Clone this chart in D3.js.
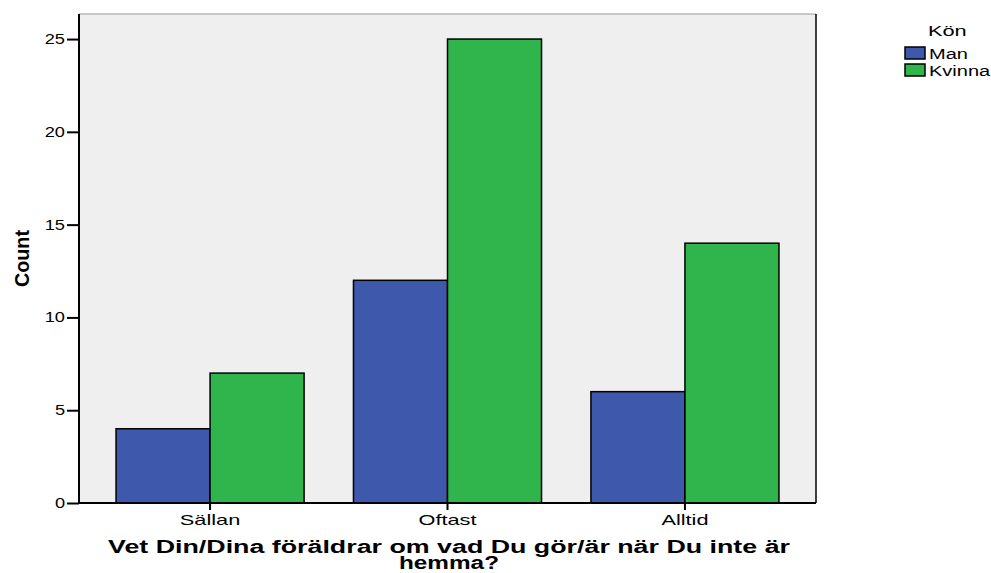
<!DOCTYPE html>
<html>
<head>
<meta charset="utf-8">
<script src="https://cdn.jsdelivr.net/npm/d3@7"></script>
<style>
  body { margin: 0; background: #fff; }
  text { font-family: "Liberation Sans", Arial, sans-serif; }
</style>
</head>
<body>
<div id="chart"></div>
<script>
// data ---------------------------------------------------------------
const categories = ['Sällan', 'Oftast', 'Alltid'];
const groups = ['Man', 'Kvinna'];
const manValues = [4, 12, 6];
const kvinnaValues = [7, 25, 14];
const yTicks = [0, 5, 10, 15, 20, 25];

const width = 991, height = 573;
const m = { left: 79, top: 14, right: 816, bottom: 503 };

// 横に引き伸ばした文字（元画像の文字が横長なので）
const stretch = (sel, k) => sel.each(function () {
  this.setAttribute('textLength', this.getComputedTextLength() * k);
  this.setAttribute('lengthAdjust', 'spacingAndGlyphs');
});

const svg = d3.select('#chart').append('svg')
  .attr('width', width)
  .attr('height', height);

const x = d3.scaleBand()
  .domain(categories)
  .range([m.left, m.right])
  .paddingInner(0.208)
  .paddingOuter(0.156);
const xInner = d3.scaleBand()
  .domain(groups)
  .range([0, x.bandwidth()]);
const y = d3.scaleLinear()
  .domain([0, 26.35])
  .range([m.bottom, m.top]);
const color = d3.scaleOrdinal()
  .domain(groups)
  .range(['#3e58ac', '#2fb54b']);

// 背景
svg.append('rect')
  .attr('x', m.left).attr('y', m.top)
  .attr('width', m.right - m.left).attr('height', m.bottom - m.top)
  .attr('fill', '#efefef');

// bars
const rows = categories.map((c, i) => ({ cat: c, Man: manValues[i], Kvinna: kvinnaValues[i] }));
svg.append('g')
  .selectAll('g')
  .data(rows)
  .enter()
  .append('g')
  .attr('transform', d => 'translate(' + x(d.cat) + ',0)')
  .selectAll('rect')
  .data(d => groups.map(g => ({ key: g, value: d[g] })))
  .enter()
  .append('rect')
  .attr('x', d => xInner(d.key))
  .attr('y', d => y(d.value))
  .attr('width', xInner.bandwidth())
  .attr('height', d => y(0) - y(d.value))
  .attr('fill', d => color(d.key))
  .attr('stroke', '#000')
  .attr('stroke-width', 1.5);

// frame
svg.append('line')
  .attr('x1', m.left).attr('x2', m.right)
  .attr('y1', m.top).attr('y2', m.top)
  .attr('stroke', '#999').attr('stroke-width', 1);
svg.append('line')
  .attr('x1', m.right).attr('x2', m.right)
  .attr('y1', m.top).attr('y2', m.bottom)
  .attr('stroke', '#000').attr('stroke-width', 1.5);

// axes
const yAxis = svg.append('g')
  .attr('transform', 'translate(' + m.left + ',0)')
  .call(d3.axisLeft(y).tickValues(yTicks).tickSize(12).tickPadding(2));
const xAxis = svg.append('g')
  .attr('transform', 'translate(0,' + m.bottom + ')')
  .call(d3.axisBottom(x).tickSize(7).tickPadding(4));
[yAxis, xAxis].forEach(a => {
  a.select('.domain').attr('stroke', '#000').attr('stroke-width', 2);
  a.selectAll('.tick line').attr('stroke', '#000').attr('stroke-width', 2);
  a.selectAll('.tick text')
    .attr('fill', '#000')
    .attr('font-family', '"Liberation Sans", Arial, sans-serif');
});
yAxis.selectAll('.tick text').attr('font-size', '14px').call(stretch, 1.3);
xAxis.selectAll('.tick text').attr('font-size', '15px').call(stretch, 1.45);
yAxis.select('.domain').attr('d', 'M0,' + m.bottom + 'V' + m.top);
xAxis.select('.domain').attr('d', 'M' + m.left + ',0H' + m.right);

// axis titles
svg.append('text')
  .attr('transform', 'translate(29,' + ((m.top + m.bottom) / 2) + ') rotate(-90)')
  .attr('text-anchor', 'middle')
  .attr('font-size', '20px')
  .attr('font-weight', 'bold')
  .attr('textLength', 57)
  .attr('lengthAdjust', 'spacingAndGlyphs')
  .text('Count');

const xTitle = svg.append('text')
  .attr('text-anchor', 'middle')
  .attr('font-size', '18px')
  .attr('font-weight', 'bold');
xTitle.append('tspan').attr('x', 449).attr('y', 553)
  .text('Vet Din/Dina föräldrar om vad Du gör/är när Du inte är');
xTitle.append('tspan').attr('x', 449).attr('y', 569)
  .text('hemma?');
xTitle.selectAll('tspan').each(function (d, i) {
  this.setAttribute('textLength', i === 0 ? 682 : 100);
  this.setAttribute('lengthAdjust', 'spacingAndGlyphs');
});

// legend
svg.append('text')
  .attr('x', 928).attr('y', 36)
  .attr('font-size', '15px')
  .text('Kön')
  .call(stretch, 1.45);
const lg = svg.append('g')
  .selectAll('g')
  .data(groups)
  .enter()
  .append('g')
  .attr('transform', (d, i) => 'translate(905,' + (47 + i * 17) + ')');
lg.append('rect')
  .attr('width', 20).attr('height', 12)
  .attr('fill', d => color(d))
  .attr('stroke', '#000').attr('stroke-width', 1.5);
lg.append('text')
  .attr('x', 24).attr('y', 12)
  .attr('font-size', '14px')
  .text(d => d)
  .call(stretch, 1.43);
</script>
</body>
</html>
